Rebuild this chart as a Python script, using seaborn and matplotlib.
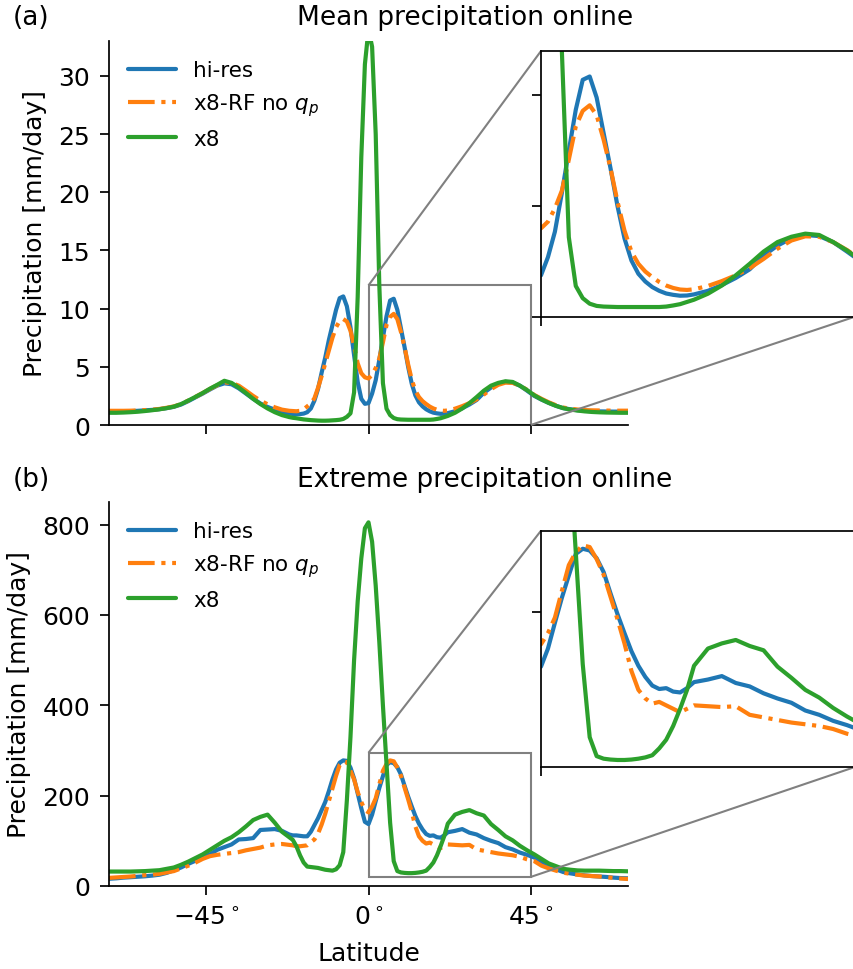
import matplotlib
matplotlib.use('Agg')
import matplotlib.pyplot as plt
import seaborn as sns
from mpl_toolkits.axes_grid1.inset_locator import mark_inset

# latitude grid: 2 deg outside the tropics, 1 deg inside
lat = list(range(-72, -21, 2)) + list(range(-21, 22)) + list(range(22, 73, 2))

# (a) mean precipitation [mm/day]
mean_hires = [1.14, 1.15, 1.17, 1.19, 1.22, 1.26, 1.30, 1.36, 1.45, 1.56, 1.76, 2.05, 2.38,
              2.70, 3.05, 3.38, 3.58, 3.50, 3.15, 2.70, 2.25, 1.85, 1.55, 1.32, 1.12, 0.98,
              0.95, 0.93, 0.94, 0.98, 1.10, 1.42, 2.10, 3.10, 4.50, 5.80, 7.30, 8.60, 9.90,
              10.9, 11.05, 10.2, 8.4, 6.0, 3.7, 2.25, 1.82,
              1.88,
              2.70, 3.85, 5.60, 7.50, 9.35, 10.7, 10.85, 9.90, 8.30, 6.70, 5.00, 3.55, 2.55,
              1.95, 1.60, 1.35, 1.18, 1.06, 1.00, 0.96, 0.97,
              1.02, 1.18, 1.44, 1.76, 2.15, 2.77, 3.22, 3.55, 3.70, 3.65, 3.38, 2.95, 2.50,
              2.18, 1.90, 1.65, 1.45, 1.35, 1.27, 1.22, 1.19, 1.17, 1.16, 1.15, 1.15, 1.15]
mean_x8rf = [1.22, 1.22, 1.22, 1.23, 1.25, 1.28, 1.32, 1.38, 1.48, 1.60, 1.80, 2.10, 2.42,
             2.75, 3.10, 3.42, 3.66, 3.62, 3.38, 2.95, 2.50, 2.10, 1.78, 1.52, 1.32, 1.22,
             1.20, 1.18, 1.22, 1.35, 1.60, 1.85, 2.30, 3.20, 4.20, 5.30, 6.40, 7.50, 8.40,
             8.95, 9.10, 8.90, 8.10, 6.80, 5.30, 4.45, 4.10,
             4.00,
             4.30, 4.90, 5.70, 7.10, 8.60, 9.30, 9.55, 9.10, 8.00, 6.70, 5.20, 3.90, 2.95,
             2.40, 2.05, 1.80, 1.58, 1.42, 1.31, 1.24, 1.22,
             1.25, 1.40, 1.62, 1.88, 2.20, 2.62, 3.08, 3.45, 3.64, 3.62, 3.38, 3.02, 2.58,
             2.25, 1.95, 1.70, 1.50, 1.40, 1.33, 1.28, 1.26, 1.25, 1.24, 1.23, 1.23, 1.23]
mean_x8 = [1.05, 1.05, 1.07, 1.10, 1.14, 1.20, 1.27, 1.35, 1.45, 1.58, 1.80, 2.10, 2.42,
           2.75, 3.12, 3.45, 3.80, 3.62, 3.22, 2.75, 2.25, 1.80, 1.42, 1.10, 0.85, 0.68,
           0.62, 0.58, 0.53, 0.48, 0.45, 0.42, 0.40, 0.38, 0.37, 0.37, 0.38, 0.40, 0.42,
           0.45, 0.52, 0.70, 1.00, 2.80, 11.0, 23.0, 31.0,
           34.0,
           32.5, 25.0, 12.0, 3.60, 1.40, 0.85, 0.60, 0.50, 0.47, 0.46, 0.45, 0.45, 0.45,
           0.45, 0.45, 0.45, 0.45, 0.47, 0.52, 0.58, 0.68,
           0.78, 1.05, 1.42, 1.88, 2.40, 2.95, 3.38, 3.62, 3.76, 3.70, 3.38, 3.00, 2.55,
           2.20, 1.90, 1.65, 1.45, 1.33, 1.24, 1.17, 1.12, 1.09, 1.07, 1.06, 1.05, 1.05]

# (b) extreme precipitation [mm/day]
ext_hires = [16, 17, 18.5, 19.5, 20.5, 21.5, 23, 25, 29, 35, 41, 49, 56,
             63, 70, 80, 86, 92, 103, 104, 106, 124, 125, 126, 122, 114,
             112, 112, 111, 110, 110, 120, 135, 150, 168, 186, 210, 236, 258,
             273, 278, 277, 262, 238, 205, 172, 142,
             137,
             158, 188, 217, 243, 268, 274, 272, 263, 247, 222, 198, 176, 155,
             138, 125, 115, 111, 112, 108, 107, 112,
             119, 122, 126, 118, 114, 106, 100, 95, 86, 81, 74, 69, 63,
             53, 44, 37, 31, 28, 25.5, 23.5, 22, 21, 20, 18.5, 17.5, 17]
ext_x8rf = [18, 19, 20, 21, 22.5, 24, 25, 27, 30, 33, 39, 45, 52,
            60, 66, 69, 71, 73, 75, 79, 82, 85, 90, 92, 93, 91,
            90, 88, 88, 89, 90, 97, 103, 116, 136, 160, 188, 216, 244,
            268, 276, 274, 255, 236, 208, 186, 168,
            163,
            176, 194, 225, 255, 270, 278, 276, 262, 244, 218, 192, 164, 132,
            110, 100, 94, 96, 92, 88, 84, 88,
            92, 91, 90, 91, 81, 78, 75, 72, 70, 68, 64.5, 59, 55,
            45, 39, 34, 29.5, 27, 25, 23, 22, 21, 19.5, 18, 16.5, 15.5]
ext_x8 = [32, 32, 32, 32, 32.5, 33, 34, 35, 38, 41, 47, 54, 62,
          70, 80, 90, 100, 108, 119, 132, 146, 153, 158, 140, 120, 108,
          102, 88, 68, 52, 43, 42, 41, 40, 38, 36, 35, 34, 37,
          46, 75, 190, 330, 500, 630, 725, 792,
          805,
          762, 665, 540, 400, 270, 140, 55, 33, 30, 29, 28.5, 28.5, 29,
          30, 31.5, 34, 42, 52, 68, 88, 110,
          138, 158, 164, 168, 161, 156, 137, 124, 110, 101, 89, 79, 70,
          60, 50, 44, 38, 36, 34.5, 34, 34, 34, 33.5, 33, 33, 32.5]

names = ['hi-res', 'x8-RF no $q_p$', 'x8']
colors = ['#1f77b4', '#ff7f0e', '#2ca02c']
styles = ['-', '-.', '-']

sns.set_style('ticks')
plt.rcParams['font.family'] = ['DejaVu Sans']
for key in ['text.color', 'axes.labelcolor', 'xtick.color', 'ytick.color', 'axes.edgecolor']:
    plt.rcParams[key] = 'black'

W, H = 854, 970
fig = plt.figure(figsize=(W / 100, H / 100), dpi=100)

ax1 = fig.add_axes([109 / W, 1 - 426 / H, 519 / W, 384 / H])
ax2 = fig.add_axes([109 / W, 1 - 887 / H, 519 / W, 384 / H])
ins1 = fig.add_axes([541 / W, 1 - 318 / H, 313 / W, 266 / H])
ins2 = fig.add_axes([541 / W, 1 - 768.3 / H, 313 / W, 236.6 / H])

panels = [
    (ax1, ins1, [mean_hires, mean_x8rf, mean_x8], (0, 33), (0, 12)),
    (ax2, ins2, [ext_hires, ext_x8rf, ext_x8], (0, 850), (20, 295)),
]

for ax, ins, series, ylim, ins_ylim in panels:
    for vals, name, c, ls in zip(series, names, colors, styles):
        sns.lineplot(x=lat, y=vals, ax=ax, color=c, lw=3, ls=ls, label=name,
                     estimator=None)
        sns.lineplot(x=lat, y=vals, ax=ins, color=c, lw=3, ls=ls, legend=False,
                     estimator=None)
    ax.set_xlim(-72, 72)
    ax.set_ylim(*ylim)
    ax.set_xticks([-45, 0, 45])
    ax.set_ylabel('Precipitation [mm/day]', fontsize=18, labelpad=8)
    ax.tick_params(labelsize=18, length=6.5, width=1.25, pad=7)
    for s in ax.spines.values():
        s.set_linewidth(1.25)
    sns.despine(ax=ax)
    ax.legend(loc='upper left', frameon=False, fontsize=15.5, handlelength=2.2)

    ins.set_xlim(0, 45)
    ins.set_ylim(*ins_ylim)
    ins.set_xticks([0, 45])
    ins.set_yticks([t for t in ax.get_yticks() if ins_ylim[0] <= t <= ins_ylim[1]])
    ins.set_xticklabels([])
    ins.set_yticklabels([])
    ins.set_xlabel('')
    ins.set_ylabel('')
    ins.tick_params(length=6.5, width=1.25)
    for s in ins.spines.values():
        s.set_linewidth(1.25)
    mark_inset(ax, ins, loc1=2, loc2=4, fc='none', ec='0.5', lw=1.5)

ax1.set_xticklabels([])
ax1.set_xlabel('')
ax2.set_xticklabels([r'$-45^\circ$', r'$0^\circ$', r'$45^\circ$'])
ax2.set_xlabel('Latitude', fontsize=18, labelpad=9)

fig.text(13 / W, 1 - 18 / H, '(a)', fontsize=19, ha='left', va='center')
fig.text(297 / W, 1 - 18 / H, 'Mean precipitation online', fontsize=19, ha='left', va='center')
fig.text(13 / W, 1 - 480 / H, '(b)', fontsize=19, ha='left', va='center')
fig.text(297 / W, 1 - 480 / H, 'Extreme precipitation online', fontsize=19, ha='left', va='center')

fig.savefig('out.png', dpi=100)
